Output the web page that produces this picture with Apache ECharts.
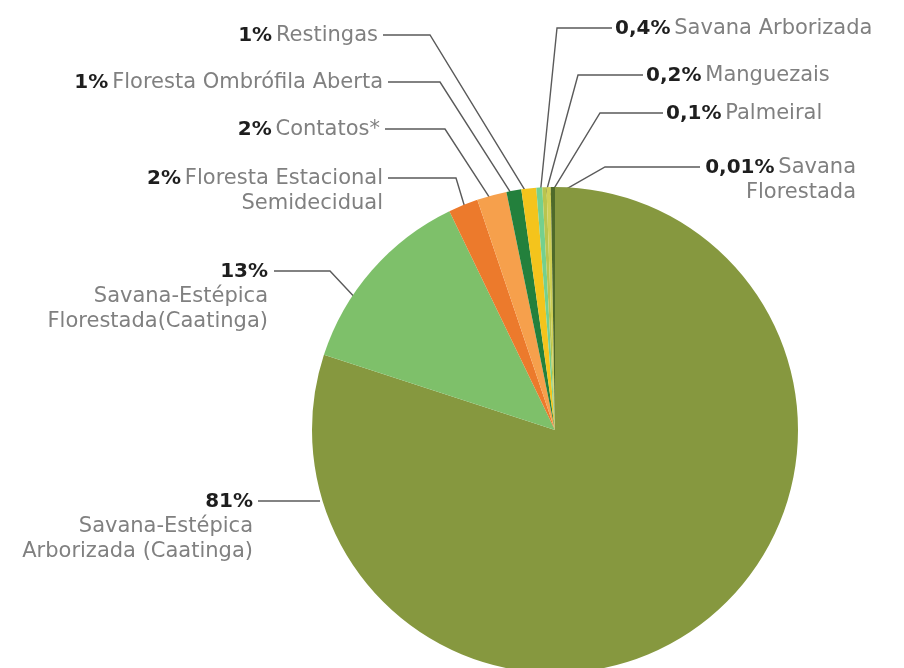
<!DOCTYPE html>
<html>
<head>
<meta charset="utf-8">
<script src="https://cdn.jsdelivr.net/npm/echarts@6/dist/echarts.min.js"></script>
<style>
  html, body { margin: 0; padding: 0; background: #fff; }
  #ch1 { width: 904px; height: 668px; }
</style>
</head>
<body>
<div id="ch1"></div>
<script>
// data
const categories = [
  'Savana-Estépica\nArborizada (Caatinga)',
  'Savana-Estépica\nFlorestada(Caatinga)',
  'Floresta Estacional\nSemidecidual',
  'Contatos*',
  'Floresta Ombrófila Aberta',
  'Restingas',
  'Savana Arborizada',
  'Manguezais',
  'Palmeiral',
  'Savana\nFlorestada'
]
const values = [81, 13, 2, 2, 1, 1, 0.4, 0.2, 0.1, 0.01]
const percentText = ['81%', '13%', '2%', '2%', '1%', '1%', '0,4%', '0,2%', '0,1%', '0,01%']
// the two big ones put the percentage on its own line
const percentOwnLine = [true, true, false, false, false, false, false, false, false, false]

const colors = ['#86983f', '#7ec06a', '#ec7a2c', '#f6a04c', '#23803c', '#f4c41c',
  '#74d08e', '#b9c44e', '#cfcf55', '#4f6a2a']

const cx = 555
const cy = 430

// label anchor, elbow and end of the leader line (layout only)
const labelSpots = [
  { x: 253, y: 489, align: 'right', start: [320, 501], elbow: [300, 501], end: [258, 501] },
  { x: 268, y: 259, align: 'right', start: [360, 303], elbow: [330, 271], end: [274, 271] },
  { x: 383, y: 166, align: 'right', elbow: [456, 178], end: [388, 178] },
  { x: 380, y: 117, align: 'right', elbow: [445, 129], end: [385, 129] },
  { x: 383, y: 70, align: 'right', elbow: [440, 82], end: [388, 82] },
  { x: 378, y: 23, align: 'right', elbow: [430, 35], end: [383, 35] },
  { x: 615, y: 16, align: 'left', elbow: [557, 28], end: [612, 28] },
  { x: 646, y: 63, align: 'left', elbow: [578, 75], end: [643, 75] },
  { x: 666, y: 101, align: 'left', elbow: [600, 113], end: [663, 113] },
  { x: 856, y: 155, align: 'right', elbow: [605, 167], end: [700, 167] }
]

const cht1 = echarts.init(document.getElementById('ch1'), null, { renderer: 'canvas' })

const seriesData = values.map(function (v, i) {
  return {
    value: v,
    name: categories[i],
    itemStyle: { color: colors[i] }
  }
})

const options1 = {
  backgroundColor: '#ffffff',
  animation: false,
  series: [
    {
      type: 'pie',
      center: [cx, cy],
      radius: [0, 243],
      startAngle: 90,
      clockwise: true,
      minAngle: 1,
      avoidLabelOverlap: false,
      emphasis: { disabled: true },
      itemStyle: { borderWidth: 0 },
      data: seriesData,
      label: {
        show: true,
        position: 'outside',
        fontFamily: 'DejaVu Sans',
        formatter: function (p) {
          const i = p.dataIndex
          const lines = categories[i].split('\n').map(function (s) { return '{n|' + s + '}' })
          if (percentOwnLine[i]) {
            return '{p|' + percentText[i] + '}\n' + lines.join('\n')
          }
          return '{p|' + percentText[i] + '} ' + lines.join('\n')
        },
        rich: {
          p: { fontFamily: 'DejaVu Sans', fontWeight: 'bold', fontSize: 20, color: '#1e1e1e', lineHeight: 25 },
          n: { fontFamily: 'DejaVu Sans', fontWeight: 'normal', fontSize: 21, color: '#808080', lineHeight: 25 }
        }
      },
      labelLine: {
        show: true,
        smooth: false,
        lineStyle: { color: '#5a5a5a', width: 1.4 }
      },
      labelLayout: function (params) {
        const s = labelSpots[params.dataIndex]
        let start = s.start
        if (!start) {
          const p0 = params.labelLinePoints[0]
          start = [cx + (p0[0] - cx) * 0.96, cy + (p0[1] - cy) * 0.96]
        }
        return {
          x: s.x,
          y: s.y,
          align: s.align,
          verticalAlign: 'top',
          labelLinePoints: [start, s.elbow, s.end]
        }
      }
    }
  ]
}
cht1.setOption(options1)
</script>
</body>
</html>
